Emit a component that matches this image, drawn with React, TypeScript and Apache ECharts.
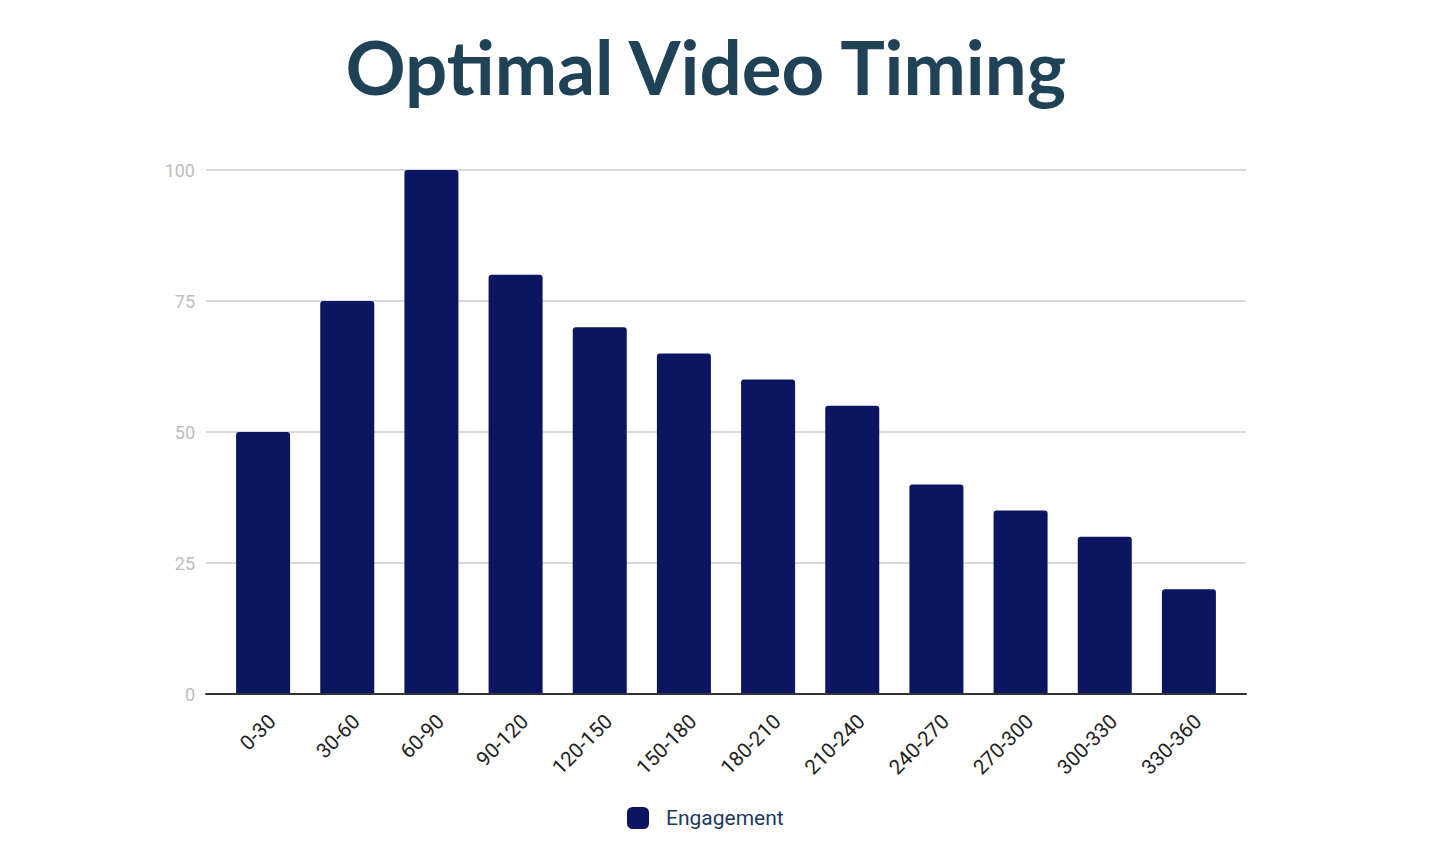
import React, { useEffect, useRef } from "react";
import * as echarts from "echarts";

const categories = ["0-30", "30-60", "60-90", "90-120", "120-150", "150-180", "180-210", "210-240", "240-270", "270-300", "300-330", "330-360"];
const engagement = [50, 75, 100, 80, 70, 65, 60, 55, 40, 35, 30, 20];
const yMin = 0;
const yMax = 100;
const yInterval = 25;

export default function App() {
  const ref = useRef<HTMLDivElement>(null);
  useEffect(() => {
    document.body.style.margin = "0";
    const chart = echarts.init(ref.current!, undefined, { renderer: "svg" });
    chart.setOption({
      animation: false,
      backgroundColor: "#ffffff",
      title: {
        text: "Optimal Video Timing",
        left: 345.5,
        top: 28,
        padding: 0,
        textStyle: { fontFamily: "Lato", fontWeight: "bold", fontSize: 74.5, color: "#1f4257" },
      },
      legend: {
        data: ["Engagement"],
        left: 627,
        top: 807,
        padding: 0,
        itemWidth: 22,
        itemHeight: 22,
        icon: "roundRect",
        textStyle: { fontFamily: "Roboto", fontSize: 21, color: "#1e3a5c", padding: [0, 0, 0, 12] },
      },
      grid: [
        { left: 206, right: 204, top: 170, bottom: 170, containLabel: false },
        { left: 221, right: 219, top: 170, bottom: 170, containLabel: false },
        { left: 230, right: 210, top: 170, bottom: 170, containLabel: false },
      ],
      xAxis: [
        {
          gridIndex: 0,
          type: "category",
          data: categories,
          axisLine: { show: true, lineStyle: { color: "#333333", width: 2 } },
          axisTick: { show: false },
          axisLabel: { show: false },
          z: 10,
        },
        {
          gridIndex: 1,
          type: "category",
          data: categories,
          axisLine: { show: false },
          axisTick: { show: false },
          axisLabel: { show: false },
        },
        {
          gridIndex: 2,
          type: "category",
          data: categories,
          axisLine: { show: false },
          axisTick: { show: false },
          axisLabel: { rotate: 45, margin: 24, fontFamily: "Roboto", fontSize: 20.5, color: "#222222", interval: 0 },
        },
      ],
      yAxis: [
        {
          gridIndex: 0,
          type: "value",
          min: yMin,
          max: yMax,
          interval: yInterval,
          axisLine: { show: false },
          axisTick: { show: false },
          axisLabel: { margin: 11, fontFamily: "Roboto", fontSize: 18, color: "#bdbdbd" },
          splitLine: { lineStyle: { color: "#cccccc", width: 1.5 } },
        },
        {
          gridIndex: 1,
          type: "value",
          min: yMin,
          max: yMax,
          interval: yInterval,
          show: false,
          splitLine: { show: false },
        },
        {
          gridIndex: 2,
          type: "value",
          min: yMin,
          max: yMax,
          interval: yInterval,
          show: false,
          splitLine: { show: false },
        },
      ],
      series: [
        {
          name: "Engagement",
          type: "bar",
          xAxisIndex: 1,
          yAxisIndex: 1,
          data: engagement,
          barWidth: 54,
          itemStyle: { color: "#0b1560", borderRadius: [3, 3, 0, 0] },
        },
      ],
    });
    return () => chart.dispose();
  }, []);
  return <div ref={ref} style={{ width: 1450, height: 864 }} />;
}
